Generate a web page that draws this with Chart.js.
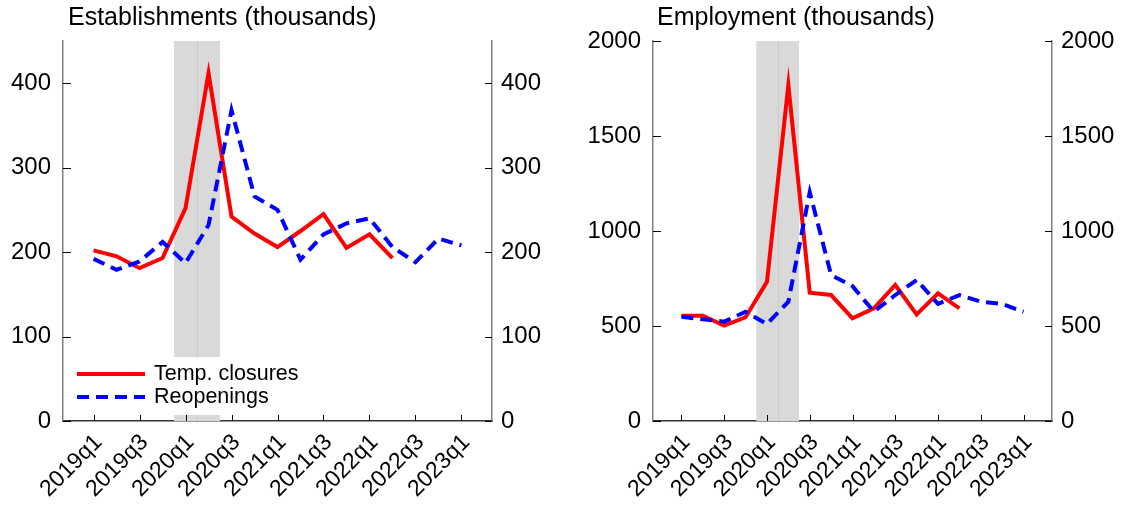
<!DOCTYPE html>
<html>
<head>
<meta charset="utf-8">
<script src="https://cdn.jsdelivr.net/npm/chart.js@4.4.0/dist/chart.umd.min.js"></script>
<style>
  body { margin: 0; background: #fff; }
  .panel { position: absolute; top: 0; width: 563px; height: 508px; }
</style>
</head>
<body>
<div class="panel" style="left:0"><canvas id="estChart" width="563" height="508"></canvas></div>
<div class="panel" style="left:563px"><canvas id="empChart" width="563" height="508"></canvas></div>
<script>
// quarters, 2019q1 .. 2023q1
const quarters = ["2019q1", "2019q2", "2019q3", "2019q4", "2020q1", "2020q2", "2020q3", "2020q4",
    "2021q1", "2021q2", "2021q3", "2021q4", "2022q1", "2022q2", "2022q3", "2022q4", "2023q1"];
const labelledQuarters = [0, 2, 4, 6, 8, 10, 12, 14, 16];

// establishments (thousands)
const estClosures = [202, 195, 181, 193, 252, 412, 242, 222, 206, 225, 245, 205, 221, 193];
const estReopenings = [192, 179, 189, 212, 187, 232, 368, 266, 250, 191, 221, 234, 240, 206, 188, 216, 208];
const estTicks = [0, 100, 200, 300, 400];

// employment (thousands)
const empClosures = [554, 554, 502, 546, 733, 1768, 675, 663, 540, 593, 716, 561, 672, 593];
const empReopenings = [549, 535, 523, 575, 510, 628, 1204, 768, 710, 575, 663, 742, 616, 663, 628, 616, 575];
const empTicks = [0, 500, 1000, 1500, 2000];

// covid shading, in quarter index
const shadeFrom = 3.5, shadeMid = 4.5, shadeTo = 5.5;

const FONT = "'Liberation Sans', Arial, sans-serif";

const shadePlugin = {
    id: "shade",
    beforeDatasetsDraw(chart) {
        const { ctx, chartArea: a, scales: { x } } = chart;
        const x0 = x.getPixelForValue(shadeFrom), x1 = x.getPixelForValue(shadeTo), xm = x.getPixelForValue(shadeMid);
        ctx.save();
        ctx.fillStyle = "#d9d9d9";
        ctx.fillRect(x0, a.top, x1 - x0, a.bottom - a.top);
        ctx.strokeStyle = "#c9c9c9";
        ctx.lineWidth = 1;
        ctx.beginPath();
        ctx.moveTo(Math.round(xm) + 0.5, a.top);
        ctx.lineTo(Math.round(xm) + 0.5, a.bottom);
        ctx.stroke();
        ctx.restore();
    }
};

const titlePlugin = {
    id: "panelTitle",
    afterDraw(chart, args, opts) {
        const ctx = chart.ctx;
        ctx.save();
        ctx.font = "25px " + FONT;
        ctx.fillStyle = "#000";
        ctx.textBaseline = "alphabetic";
        ctx.fillText(opts.text, opts.x, opts.y);
        ctx.restore();
    }
};

// legend sits inside the plot, bottom left
const insetLegend = {
    id: "insetLegend",
    afterDatasetsDraw(chart) {
        const { ctx, chartArea: a } = chart;
        ctx.save();
        ctx.fillStyle = "#fff";
        ctx.fillRect(a.left + 1, 357, 260, 58);
        const items = chart.data.datasets;
        items.forEach((ds, i) => {
            const y = 374 + i * 23;
            ctx.strokeStyle = ds.borderColor;
            ctx.lineWidth = 4;
            ctx.setLineDash(ds.borderDash || []);
            ctx.beginPath();
            ctx.moveTo(77, y);
            ctx.lineTo(145, y);
            ctx.stroke();
            ctx.setLineDash([]);
            ctx.fillStyle = "#000";
            ctx.font = "21.5px " + FONT;
            ctx.textBaseline = "middle";
            ctx.fillText(ds.label, 154, y);
        });
        ctx.restore();
    }
};

const innerTicks = {
    id: "innerTicks",
    afterDraw(chart) {
        const { ctx, chartArea: a, scales: { x, y } } = chart;
        ctx.save();
        ctx.strokeStyle = "#000";
        ctx.lineWidth = 1;
        ctx.beginPath();
        labelledQuarters.forEach(q => {
            const px = Math.round(x.getPixelForValue(q)) + 0.5;
            ctx.moveTo(px, a.bottom);
            ctx.lineTo(px, a.bottom - 6);
        });
        y.ticks.forEach(t => {
            const py = Math.round(y.getPixelForValue(t.value)) + 0.5;
            ctx.moveTo(a.left, py);
            ctx.lineTo(a.left + 8, py);
            ctx.moveTo(a.right, py);
            ctx.lineTo(a.right - 7, py);
        });
        ctx.stroke();
        ctx.restore();
    }
};

function yAxis(position, max, ticks, width, pad) {
    return {
        position: position,
        min: 0,
        max: max,
        afterBuildTicks: s => { s.ticks = ticks.map(v => ({ value: v })); },
        afterFit: s => { s.width = width; },
        grid: { display: false, drawTicks: false },
        border: { color: "#808080", width: 1.5 },
        ticks: { color: "#000", font: { family: FONT, size: 24 }, padding: pad, callback: v => String(v) }
    };
}

function renderPanel(id, title, closures, reopenings, yMax, yTicks, dims, withLegend) {
    const ctx = document.getElementById(id).getContext("2d");
    const plugins = [shadePlugin, innerTicks, titlePlugin];
    if (withLegend) plugins.push(insetLegend);
    new Chart(ctx, {
        type: "line",
        data: {
            datasets: [
                { label: "Temp. closures", data: closures.map((v, i) => ({ x: i, y: v })),
                  borderColor: "#ff0000", borderWidth: 4, pointRadius: 0, tension: 0, borderJoinStyle: "miter", order: 1 },
                { label: "Reopenings", data: reopenings.map((v, i) => ({ x: i, y: v })),
                  borderColor: "#0000ff", borderWidth: 4, borderDash: [12, 7], pointRadius: 0, tension: 0, borderJoinStyle: "miter", order: 0 }
            ]
        },
        plugins: plugins,
        options: {
            responsive: false,
            animation: false,
            layout: { padding: { top: 41, left: 0, right: 0, bottom: 0 } },
            plugins: {
                legend: { display: false },
                tooltip: { enabled: false },
                panelTitle: { text: title, x: dims.titleX, y: 25 }
            },
            scales: {
                x: {
                    type: "linear",
                    min: -1.33,
                    max: 17.33,
                    afterBuildTicks: s => { s.ticks = labelledQuarters.map(v => ({ value: v })); },
                    afterFit: s => { s.height = 87; },
                    grid: { display: false, drawTicks: false },
                    border: { color: "#333", width: 1.5 },
                    ticks: {
                        color: "#000",
                        font: { family: FONT, size: 23 },
                        minRotation: 45,
                        maxRotation: 45,
                        autoSkip: false,
                        padding: 8,
                        labelOffset: 5,
                        callback: v => quarters[v]
                    }
                },
                y: yAxis("left", yMax, yTicks, dims.left, 12),
                y1: yAxis("right", yMax, yTicks, dims.right, 9)
            }
        }
    });
}

renderPanel("estChart", "Establishments (thousands)", estClosures, estReopenings, 450, estTicks,
    { left: 63, right: 71, titleX: 68 }, true);
renderPanel("empChart", "Employment (thousands)", empClosures, empReopenings, 2000, empTicks,
    { left: 90, right: 74, titleX: 94 }, false);
</script>
</body>
</html>
